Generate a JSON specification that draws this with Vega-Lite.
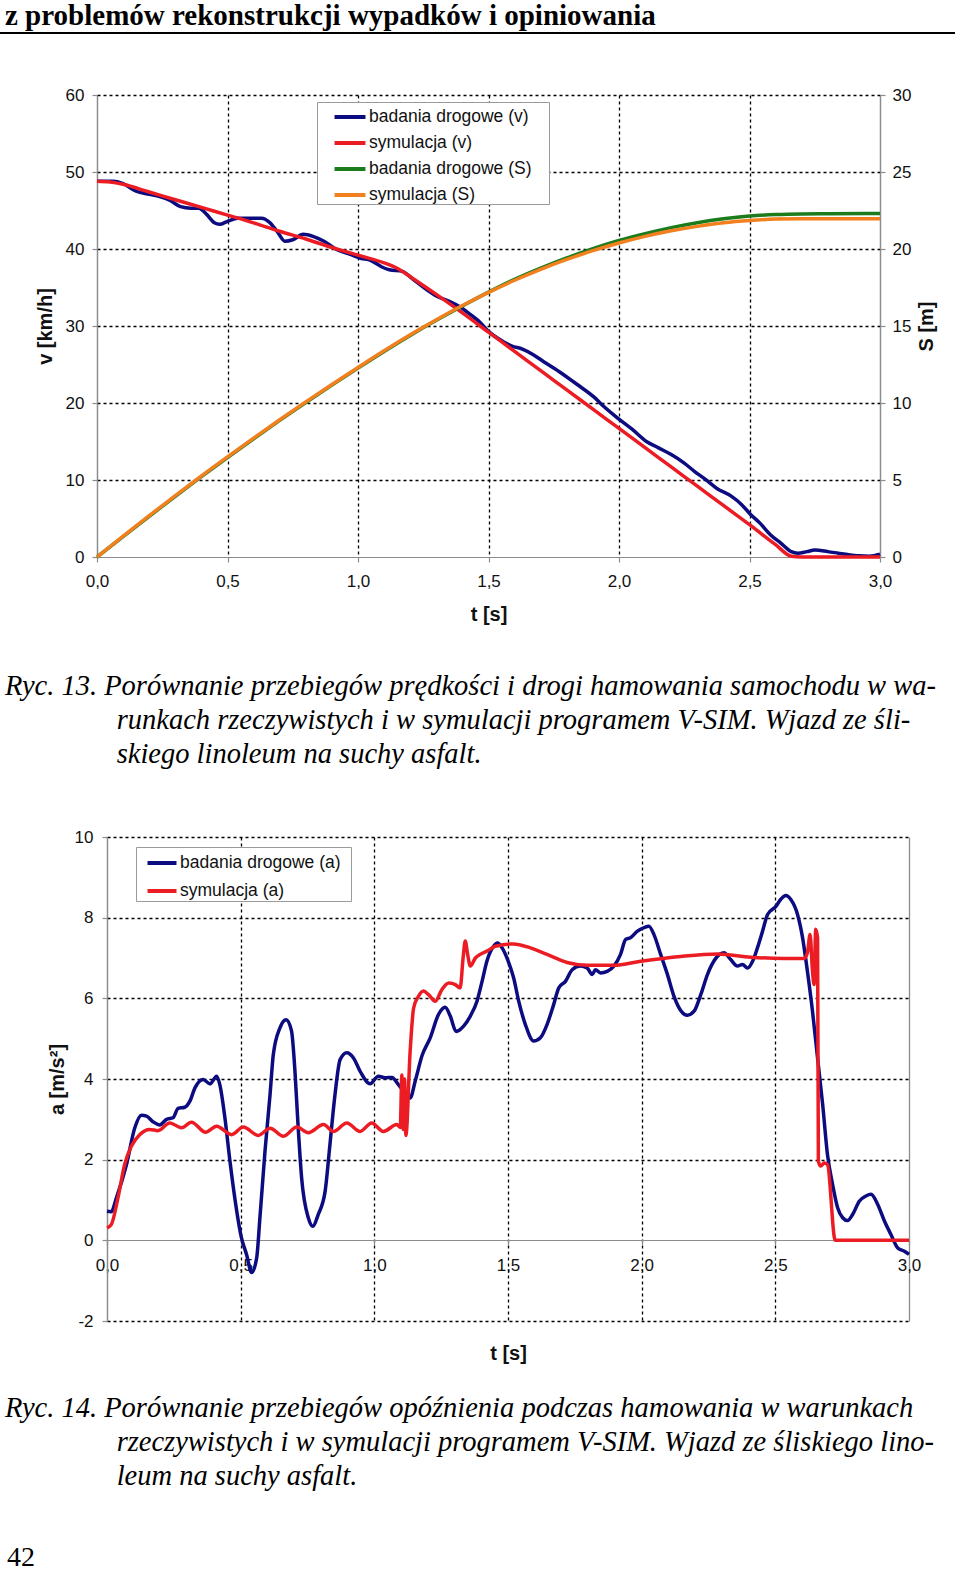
{
"$schema": "https://vega.github.io/schema/vega-lite/v6.json",
"background": "white",
"padding": {"left": 0, "top": 2, "right": 0, "bottom": 0},
"spacing": 0,
"resolve": {"scale": {"color": "independent"}},
"config": {
  "locale": {"number": {"decimal": ",", "thousands": ".", "grouping": [3], "currency": ["", " zł"], "minus": "-"}},
  "view": {"stroke": null},
  "axis": {
    "domainColor": "#8c8c8c", "domainWidth": 1.2,
    "tickColor": "#8c8c8c", "tickSize": 5, "tickWidth": 1.2,
    "labelFont": "Liberation Sans", "labelFontSize": 17, "labelColor": "#111111",
    "titleFont": "Liberation Sans", "titleFontSize": 20, "titleFontWeight": "bold", "titleColor": "#111111",
    "gridWidth": 1.3, "labelFlush": false, "labelOverlap": false, "labelBound": false
  },
  "title": {"color": "black", "anchor": "start", "frame": "group"}
},
"datasets": {
  "v1": [
    {"t":0,"v":48.8,"series":"badania drogowe (v)"},{"t":0.06,"v":48.8,"series":"badania drogowe (v)"},{"t":0.1,"v":48.5,"series":"badania drogowe (v)"},{"t":0.15,"v":47.5,"series":"badania drogowe (v)"},{"t":0.2,"v":47.1,"series":"badania drogowe (v)"},{"t":0.24,"v":46.8,"series":"badania drogowe (v)"},{"t":0.28,"v":46.3,"series":"badania drogowe (v)"},{"t":0.32,"v":45.5,"series":"badania drogowe (v)"},{"t":0.36,"v":45.3,"series":"badania drogowe (v)"},{"t":0.39,"v":45.3,"series":"badania drogowe (v)"},{"t":0.42,"v":44.5,"series":"badania drogowe (v)"},{"t":0.45,"v":43.4,"series":"badania drogowe (v)"},{"t":0.47,"v":43.2,"series":"badania drogowe (v)"},{"t":0.5,"v":43.6,"series":"badania drogowe (v)"},{"t":0.54,"v":44.0,"series":"badania drogowe (v)"},{"t":0.63,"v":44.0,"series":"badania drogowe (v)"},{"t":0.66,"v":43.5,"series":"badania drogowe (v)"},{"t":0.69,"v":42.3,"series":"badania drogowe (v)"},{"t":0.72,"v":41.0,"series":"badania drogowe (v)"},{"t":0.75,"v":41.2,"series":"badania drogowe (v)"},{"t":0.79,"v":41.9,"series":"badania drogowe (v)"},{"t":0.83,"v":41.6,"series":"badania drogowe (v)"},{"t":0.87,"v":41.0,"series":"badania drogowe (v)"},{"t":0.92,"v":39.9,"series":"badania drogowe (v)"},{"t":0.97,"v":39.3,"series":"badania drogowe (v)"},{"t":1.01,"v":38.8,"series":"badania drogowe (v)"},{"t":1.05,"v":38.5,"series":"badania drogowe (v)"},{"t":1.09,"v":37.7,"series":"badania drogowe (v)"},{"t":1.12,"v":37.3,"series":"badania drogowe (v)"},{"t":1.17,"v":37.1,"series":"badania drogowe (v)"},{"t":1.21,"v":36.1,"series":"badania drogowe (v)"},{"t":1.26,"v":34.8,"series":"badania drogowe (v)"},{"t":1.3,"v":33.9,"series":"badania drogowe (v)"},{"t":1.35,"v":33.2,"series":"badania drogowe (v)"},{"t":1.39,"v":32.5,"series":"badania drogowe (v)"},{"t":1.43,"v":31.5,"series":"badania drogowe (v)"},{"t":1.47,"v":30.4,"series":"badania drogowe (v)"},{"t":1.5,"v":29.3,"series":"badania drogowe (v)"},{"t":1.555,"v":28.0,"series":"badania drogowe (v)"},{"t":1.59,"v":27.4,"series":"badania drogowe (v)"},{"t":1.63,"v":27.0,"series":"badania drogowe (v)"},{"t":1.67,"v":26.3,"series":"badania drogowe (v)"},{"t":1.71,"v":25.4,"series":"badania drogowe (v)"},{"t":1.77,"v":24.1,"series":"badania drogowe (v)"},{"t":1.84,"v":22.4,"series":"badania drogowe (v)"},{"t":1.91,"v":20.6,"series":"badania drogowe (v)"},{"t":1.94,"v":19.6,"series":"badania drogowe (v)"},{"t":2.0,"v":17.9,"series":"badania drogowe (v)"},{"t":2.05,"v":16.6,"series":"badania drogowe (v)"},{"t":2.105,"v":15.0,"series":"badania drogowe (v)"},{"t":2.15,"v":14.2,"series":"badania drogowe (v)"},{"t":2.2,"v":13.3,"series":"badania drogowe (v)"},{"t":2.25,"v":12.2,"series":"badania drogowe (v)"},{"t":2.29,"v":11.1,"series":"badania drogowe (v)"},{"t":2.33,"v":10.1,"series":"badania drogowe (v)"},{"t":2.375,"v":8.9,"series":"badania drogowe (v)"},{"t":2.43,"v":7.9,"series":"badania drogowe (v)"},{"t":2.47,"v":6.8,"series":"badania drogowe (v)"},{"t":2.505,"v":5.5,"series":"badania drogowe (v)"},{"t":2.54,"v":4.4,"series":"badania drogowe (v)"},{"t":2.58,"v":2.9,"series":"badania drogowe (v)"},{"t":2.62,"v":1.8,"series":"badania drogowe (v)"},{"t":2.66,"v":0.7,"series":"badania drogowe (v)"},{"t":2.685,"v":0.5,"series":"badania drogowe (v)"},{"t":2.72,"v":0.7,"series":"badania drogowe (v)"},{"t":2.75,"v":0.9,"series":"badania drogowe (v)"},{"t":2.8,"v":0.7,"series":"badania drogowe (v)"},{"t":2.84,"v":0.5,"series":"badania drogowe (v)"},{"t":2.88,"v":0.3,"series":"badania drogowe (v)"},{"t":2.92,"v":0.15,"series":"badania drogowe (v)"},{"t":2.96,"v":0.1,"series":"badania drogowe (v)"},{"t":3.0,"v":0.35,"series":"badania drogowe (v)"},
    {"t":0,"v":48.8,"series":"symulacja (v)"},{"t":0.05,"v":48.7,"series":"symulacja (v)"},{"t":0.1,"v":48.4,"series":"symulacja (v)"},{"t":0.2,"v":47.4,"series":"symulacja (v)"},{"t":0.3,"v":46.4,"series":"symulacja (v)"},{"t":0.4,"v":45.4,"series":"symulacja (v)"},{"t":0.5,"v":44.4,"series":"symulacja (v)"},{"t":0.6,"v":43.4,"series":"symulacja (v)"},{"t":0.7,"v":42.3,"series":"symulacja (v)"},{"t":0.8,"v":41.3,"series":"symulacja (v)"},{"t":0.9,"v":40.2,"series":"symulacja (v)"},{"t":1.0,"v":39.2,"series":"symulacja (v)"},{"t":1.1,"v":38.2,"series":"symulacja (v)"},{"t":1.15,"v":37.5,"series":"symulacja (v)"},{"t":1.2,"v":36.4,"series":"symulacja (v)"},{"t":1.3,"v":34.1,"series":"symulacja (v)"},{"t":1.4,"v":31.7,"series":"symulacja (v)"},{"t":1.5,"v":29.2,"series":"symulacja (v)"},{"t":1.6,"v":26.7,"series":"symulacja (v)"},{"t":1.7,"v":24.2,"series":"symulacja (v)"},{"t":1.8,"v":21.7,"series":"symulacja (v)"},{"t":1.9,"v":19.2,"series":"symulacja (v)"},{"t":2.0,"v":16.7,"series":"symulacja (v)"},{"t":2.1,"v":14.2,"series":"symulacja (v)"},{"t":2.2,"v":11.7,"series":"symulacja (v)"},{"t":2.3,"v":9.2,"series":"symulacja (v)"},{"t":2.4,"v":6.7,"series":"symulacja (v)"},{"t":2.5,"v":4.2,"series":"symulacja (v)"},{"t":2.6,"v":1.6,"series":"symulacja (v)"},{"t":2.66,"v":0.1,"series":"symulacja (v)"},{"t":2.7,"v":0,"series":"symulacja (v)"},{"t":3.0,"v":0,"series":"symulacja (v)"}
  ],
  "s1": [
    {"t":0,"s":0,"series":"badania drogowe (S)"},{"t":0.1,"s":1.32,"series":"badania drogowe (S)"},{"t":0.2,"s":2.64,"series":"badania drogowe (S)"},{"t":0.3,"s":3.94,"series":"badania drogowe (S)"},{"t":0.4,"s":5.22,"series":"badania drogowe (S)"},{"t":0.5,"s":6.46,"series":"badania drogowe (S)"},{"t":0.6,"s":7.68,"series":"badania drogowe (S)"},{"t":0.7,"s":8.87,"series":"badania drogowe (S)"},{"t":0.8,"s":10.03,"series":"badania drogowe (S)"},{"t":0.9,"s":11.16,"series":"badania drogowe (S)"},{"t":1.0,"s":12.27,"series":"badania drogowe (S)"},{"t":1.1,"s":13.35,"series":"badania drogowe (S)"},{"t":1.2,"s":14.39,"series":"badania drogowe (S)"},{"t":1.3,"s":15.37,"series":"badania drogowe (S)"},{"t":1.4,"s":16.3,"series":"badania drogowe (S)"},{"t":1.5,"s":17.2,"series":"badania drogowe (S)"},{"t":1.6,"s":18.03,"series":"badania drogowe (S)"},{"t":1.7,"s":18.76,"series":"badania drogowe (S)"},{"t":1.8,"s":19.42,"series":"badania drogowe (S)"},{"t":1.9,"s":20.02,"series":"badania drogowe (S)"},{"t":2.0,"s":20.55,"series":"badania drogowe (S)"},{"t":2.1,"s":21.0,"series":"badania drogowe (S)"},{"t":2.2,"s":21.39,"series":"badania drogowe (S)"},{"t":2.3,"s":21.71,"series":"badania drogowe (S)"},{"t":2.4,"s":21.96,"series":"badania drogowe (S)"},{"t":2.5,"s":22.14,"series":"badania drogowe (S)"},{"t":2.6,"s":22.24,"series":"badania drogowe (S)"},{"t":2.7,"s":22.28,"series":"badania drogowe (S)"},{"t":2.8,"s":22.29,"series":"badania drogowe (S)"},{"t":3.0,"s":22.3,"series":"badania drogowe (S)"},
    {"t":0,"s":0,"series":"symulacja (S)"},{"t":0.1,"s":1.35,"series":"symulacja (S)"},{"t":0.2,"s":2.68,"series":"symulacja (S)"},{"t":0.3,"s":3.98,"series":"symulacja (S)"},{"t":0.4,"s":5.26,"series":"symulacja (S)"},{"t":0.5,"s":6.5,"series":"symulacja (S)"},{"t":0.6,"s":7.72,"series":"symulacja (S)"},{"t":0.7,"s":8.91,"series":"symulacja (S)"},{"t":0.8,"s":10.07,"series":"symulacja (S)"},{"t":0.9,"s":11.2,"series":"symulacja (S)"},{"t":1.0,"s":12.31,"series":"symulacja (S)"},{"t":1.1,"s":13.39,"series":"symulacja (S)"},{"t":1.2,"s":14.43,"series":"symulacja (S)"},{"t":1.3,"s":15.41,"series":"symulacja (S)"},{"t":1.4,"s":16.33,"series":"symulacja (S)"},{"t":1.5,"s":17.18,"series":"symulacja (S)"},{"t":1.6,"s":17.97,"series":"symulacja (S)"},{"t":1.7,"s":18.68,"series":"symulacja (S)"},{"t":1.8,"s":19.32,"series":"symulacja (S)"},{"t":1.9,"s":19.89,"series":"symulacja (S)"},{"t":2.0,"s":20.39,"series":"symulacja (S)"},{"t":2.1,"s":20.82,"series":"symulacja (S)"},{"t":2.2,"s":21.18,"series":"symulacja (S)"},{"t":2.3,"s":21.47,"series":"symulacja (S)"},{"t":2.4,"s":21.7,"series":"symulacja (S)"},{"t":2.5,"s":21.85,"series":"symulacja (S)"},{"t":2.6,"s":21.94,"series":"symulacja (S)"},{"t":2.7,"s":21.96,"series":"symulacja (S)"},{"t":3.0,"s":21.96,"series":"symulacja (S)"}
  ],
  "a2": [
    {"t":0,"a":0.72,"series":"badania drogowe (a)"},{"t":0.016,"a":0.71,"series":"badania drogowe (a)"},{"t":0.035,"a":1.05,"series":"badania drogowe (a)"},{"t":0.073,"a":1.88,"series":"badania drogowe (a)"},{"t":0.104,"a":2.79,"series":"badania drogowe (a)"},{"t":0.129,"a":3.1,"series":"badania drogowe (a)"},{"t":0.148,"a":3.08,"series":"badania drogowe (a)"},{"t":0.172,"a":2.94,"series":"badania drogowe (a)"},{"t":0.197,"a":2.86,"series":"badania drogowe (a)"},{"t":0.223,"a":3.0,"series":"badania drogowe (a)"},{"t":0.247,"a":3.04,"series":"badania drogowe (a)"},{"t":0.266,"a":3.27,"series":"badania drogowe (a)"},{"t":0.291,"a":3.3,"series":"badania drogowe (a)"},{"t":0.31,"a":3.45,"series":"badania drogowe (a)"},{"t":0.329,"a":3.78,"series":"badania drogowe (a)"},{"t":0.36,"a":3.99,"series":"badania drogowe (a)"},{"t":0.385,"a":3.88,"series":"badania drogowe (a)"},{"t":0.41,"a":4.07,"series":"badania drogowe (a)"},{"t":0.422,"a":3.86,"series":"badania drogowe (a)"},{"t":0.441,"a":3.04,"series":"badania drogowe (a)"},{"t":0.46,"a":1.96,"series":"badania drogowe (a)"},{"t":0.478,"a":1.05,"series":"badania drogowe (a)"},{"t":0.503,"a":0.06,"series":"badania drogowe (a)"},{"t":0.522,"a":-0.35,"series":"badania drogowe (a)"},{"t":0.541,"a":-0.8,"series":"badania drogowe (a)"},{"t":0.56,"a":-0.43,"series":"badania drogowe (a)"},{"t":0.572,"a":0.56,"series":"badania drogowe (a)"},{"t":0.591,"a":2.21,"series":"badania drogowe (a)"},{"t":0.61,"a":3.62,"series":"badania drogowe (a)"},{"t":0.622,"a":4.6,"series":"badania drogowe (a)"},{"t":0.647,"a":5.27,"series":"badania drogowe (a)"},{"t":0.67,"a":5.47,"series":"badania drogowe (a)"},{"t":0.69,"a":5.2,"series":"badania drogowe (a)"},{"t":0.703,"a":4.2,"series":"badania drogowe (a)"},{"t":0.713,"a":3.04,"series":"badania drogowe (a)"},{"t":0.728,"a":1.55,"series":"badania drogowe (a)"},{"t":0.753,"a":0.56,"series":"badania drogowe (a)"},{"t":0.77,"a":0.35,"series":"badania drogowe (a)"},{"t":0.79,"a":0.64,"series":"badania drogowe (a)"},{"t":0.816,"a":1.22,"series":"badania drogowe (a)"},{"t":0.834,"a":2.38,"series":"badania drogowe (a)"},{"t":0.853,"a":3.62,"series":"badania drogowe (a)"},{"t":0.872,"a":4.48,"series":"badania drogowe (a)"},{"t":0.897,"a":4.65,"series":"badania drogowe (a)"},{"t":0.922,"a":4.52,"series":"badania drogowe (a)"},{"t":0.947,"a":4.19,"series":"badania drogowe (a)"},{"t":0.984,"a":3.88,"series":"badania drogowe (a)"},{"t":1.015,"a":4.07,"series":"badania drogowe (a)"},{"t":1.04,"a":4.03,"series":"badania drogowe (a)"},{"t":1.066,"a":4.04,"series":"badania drogowe (a)"},{"t":1.09,"a":3.86,"series":"badania drogowe (a)"},{"t":1.11,"a":3.7,"series":"badania drogowe (a)"},{"t":1.134,"a":3.53,"series":"badania drogowe (a)"},{"t":1.153,"a":3.95,"series":"badania drogowe (a)"},{"t":1.178,"a":4.57,"series":"badania drogowe (a)"},{"t":1.209,"a":5.02,"series":"badania drogowe (a)"},{"t":1.24,"a":5.6,"series":"badania drogowe (a)"},{"t":1.265,"a":5.78,"series":"badania drogowe (a)"},{"t":1.284,"a":5.56,"series":"badania drogowe (a)"},{"t":1.306,"a":5.18,"series":"badania drogowe (a)"},{"t":1.334,"a":5.31,"series":"badania drogowe (a)"},{"t":1.359,"a":5.56,"series":"badania drogowe (a)"},{"t":1.384,"a":5.93,"series":"badania drogowe (a)"},{"t":1.403,"a":6.42,"series":"badania drogowe (a)"},{"t":1.421,"a":6.92,"series":"badania drogowe (a)"},{"t":1.446,"a":7.29,"series":"badania drogowe (a)"},{"t":1.461,"a":7.37,"series":"badania drogowe (a)"},{"t":1.478,"a":7.25,"series":"badania drogowe (a)"},{"t":1.503,"a":6.88,"series":"badania drogowe (a)"},{"t":1.521,"a":6.51,"series":"badania drogowe (a)"},{"t":1.54,"a":5.93,"series":"badania drogowe (a)"},{"t":1.565,"a":5.35,"series":"badania drogowe (a)"},{"t":1.596,"a":4.94,"series":"badania drogowe (a)"},{"t":1.621,"a":5.02,"series":"badania drogowe (a)"},{"t":1.646,"a":5.35,"series":"badania drogowe (a)"},{"t":1.671,"a":5.85,"series":"badania drogowe (a)"},{"t":1.69,"a":6.26,"series":"badania drogowe (a)"},{"t":1.715,"a":6.42,"series":"badania drogowe (a)"},{"t":1.74,"a":6.71,"series":"badania drogowe (a)"},{"t":1.771,"a":6.8,"series":"badania drogowe (a)"},{"t":1.796,"a":6.75,"series":"badania drogowe (a)"},{"t":1.815,"a":6.59,"series":"badania drogowe (a)"},{"t":1.827,"a":6.71,"series":"badania drogowe (a)"},{"t":1.846,"a":6.63,"series":"badania drogowe (a)"},{"t":1.871,"a":6.67,"series":"badania drogowe (a)"},{"t":1.896,"a":6.8,"series":"badania drogowe (a)"},{"t":1.921,"a":7.09,"series":"badania drogowe (a)"},{"t":1.94,"a":7.46,"series":"badania drogowe (a)"},{"t":1.958,"a":7.5,"series":"badania drogowe (a)"},{"t":1.983,"a":7.66,"series":"badania drogowe (a)"},{"t":2.008,"a":7.75,"series":"badania drogowe (a)"},{"t":2.027,"a":7.79,"series":"badania drogowe (a)"},{"t":2.046,"a":7.58,"series":"badania drogowe (a)"},{"t":2.071,"a":7.09,"series":"badania drogowe (a)"},{"t":2.096,"a":6.6,"series":"badania drogowe (a)"},{"t":2.121,"a":6.05,"series":"badania drogowe (a)"},{"t":2.146,"a":5.7,"series":"badania drogowe (a)"},{"t":2.171,"a":5.58,"series":"badania drogowe (a)"},{"t":2.196,"a":5.68,"series":"badania drogowe (a)"},{"t":2.221,"a":6.09,"series":"badania drogowe (a)"},{"t":2.246,"a":6.59,"series":"badania drogowe (a)"},{"t":2.277,"a":6.99,"series":"badania drogowe (a)"},{"t":2.308,"a":7.13,"series":"badania drogowe (a)"},{"t":2.333,"a":6.96,"series":"badania drogowe (a)"},{"t":2.358,"a":6.8,"series":"badania drogowe (a)"},{"t":2.377,"a":6.84,"series":"badania drogowe (a)"},{"t":2.396,"a":6.75,"series":"badania drogowe (a)"},{"t":2.415,"a":6.92,"series":"badania drogowe (a)"},{"t":2.433,"a":7.25,"series":"badania drogowe (a)"},{"t":2.452,"a":7.66,"series":"badania drogowe (a)"},{"t":2.471,"a":8.08,"series":"badania drogowe (a)"},{"t":2.502,"a":8.28,"series":"badania drogowe (a)"},{"t":2.52,"a":8.45,"series":"badania drogowe (a)"},{"t":2.539,"a":8.55,"series":"badania drogowe (a)"},{"t":2.558,"a":8.45,"series":"badania drogowe (a)"},{"t":2.583,"a":8.08,"series":"badania drogowe (a)"},{"t":2.602,"a":7.5,"series":"badania drogowe (a)"},{"t":2.62,"a":6.67,"series":"badania drogowe (a)"},{"t":2.639,"a":5.68,"series":"badania drogowe (a)"},{"t":2.658,"a":4.52,"series":"badania drogowe (a)"},{"t":2.677,"a":3.37,"series":"badania drogowe (a)"},{"t":2.695,"a":2.13,"series":"badania drogowe (a)"},{"t":2.714,"a":1.39,"series":"badania drogowe (a)"},{"t":2.733,"a":0.81,"series":"badania drogowe (a)"},{"t":2.752,"a":0.56,"series":"badania drogowe (a)"},{"t":2.77,"a":0.49,"series":"badania drogowe (a)"},{"t":2.789,"a":0.64,"series":"badania drogowe (a)"},{"t":2.814,"a":0.97,"series":"badania drogowe (a)"},{"t":2.839,"a":1.1,"series":"badania drogowe (a)"},{"t":2.858,"a":1.14,"series":"badania drogowe (a)"},{"t":2.883,"a":0.89,"series":"badania drogowe (a)"},{"t":2.908,"a":0.48,"series":"badania drogowe (a)"},{"t":2.932,"a":0.15,"series":"badania drogowe (a)"},{"t":2.958,"a":-0.19,"series":"badania drogowe (a)"},{"t":2.983,"a":-0.27,"series":"badania drogowe (a)"},{"t":3.0,"a":-0.35,"series":"badania drogowe (a)"},
    {"t":0,"a":0.31,"series":"symulacja (a)"},{"t":0.016,"a":0.39,"series":"symulacja (a)"},{"t":0.041,"a":1.05,"series":"symulacja (a)"},{"t":0.066,"a":1.88,"series":"symulacja (a)"},{"t":0.091,"a":2.33,"series":"symulacja (a)"},{"t":0.122,"a":2.62,"series":"symulacja (a)"},{"t":0.16,"a":2.75,"series":"symulacja (a)"},{"t":0.191,"a":2.72,"series":"symulacja (a)"},{"t":0.235,"a":2.91,"series":"symulacja (a)"},{"t":0.279,"a":2.79,"series":"symulacja (a)"},{"t":0.316,"a":2.93,"series":"symulacja (a)"},{"t":0.369,"a":2.68,"series":"symulacja (a)"},{"t":0.41,"a":2.83,"series":"symulacja (a)"},{"t":0.466,"a":2.62,"series":"symulacja (a)"},{"t":0.51,"a":2.81,"series":"symulacja (a)"},{"t":0.566,"a":2.6,"series":"symulacja (a)"},{"t":0.61,"a":2.78,"series":"symulacja (a)"},{"t":0.66,"a":2.58,"series":"symulacja (a)"},{"t":0.71,"a":2.81,"series":"symulacja (a)"},{"t":0.753,"a":2.67,"series":"symulacja (a)"},{"t":0.81,"a":2.87,"series":"symulacja (a)"},{"t":0.847,"a":2.7,"series":"symulacja (a)"},{"t":0.897,"a":2.91,"series":"symulacja (a)"},{"t":0.947,"a":2.7,"series":"symulacja (a)"},{"t":0.99,"a":2.91,"series":"symulacja (a)"},{"t":1.034,"a":2.7,"series":"symulacja (a)"},{"t":1.084,"a":2.87,"series":"symulacja (a)"},{"t":1.097,"a":2.8,"series":"symulacja (a)"},{"t":1.103,"a":4.1,"series":"symulacja (a)"},{"t":1.108,"a":2.75,"series":"symulacja (a)"},{"t":1.113,"a":4.0,"series":"symulacja (a)"},{"t":1.118,"a":2.6,"series":"symulacja (a)"},{"t":1.134,"a":4.69,"series":"symulacja (a)"},{"t":1.147,"a":5.76,"series":"symulacja (a)"},{"t":1.165,"a":6.05,"series":"symulacja (a)"},{"t":1.184,"a":6.18,"series":"symulacja (a)"},{"t":1.203,"a":6.09,"series":"symulacja (a)"},{"t":1.228,"a":5.93,"series":"symulacja (a)"},{"t":1.253,"a":6.22,"series":"symulacja (a)"},{"t":1.278,"a":6.38,"series":"symulacja (a)"},{"t":1.303,"a":6.34,"series":"symulacja (a)"},{"t":1.321,"a":6.26,"series":"symulacja (a)"},{"t":1.332,"a":7.0,"series":"symulacja (a)"},{"t":1.34,"a":7.42,"series":"symulacja (a)"},{"t":1.349,"a":7.09,"series":"symulacja (a)"},{"t":1.359,"a":6.8,"series":"symulacja (a)"},{"t":1.378,"a":7.0,"series":"symulacja (a)"},{"t":1.396,"a":7.09,"series":"symulacja (a)"},{"t":1.421,"a":7.17,"series":"symulacja (a)"},{"t":1.453,"a":7.29,"series":"symulacja (a)"},{"t":1.521,"a":7.35,"series":"symulacja (a)"},{"t":1.584,"a":7.25,"series":"symulacja (a)"},{"t":1.646,"a":7.09,"series":"symulacja (a)"},{"t":1.721,"a":6.89,"series":"symulacja (a)"},{"t":1.796,"a":6.82,"series":"symulacja (a)"},{"t":1.896,"a":6.82,"series":"symulacja (a)"},{"t":1.996,"a":6.92,"series":"symulacja (a)"},{"t":2.146,"a":7.04,"series":"symulacja (a)"},{"t":2.283,"a":7.1,"series":"symulacja (a)"},{"t":2.408,"a":7.02,"series":"symulacja (a)"},{"t":2.533,"a":6.99,"series":"symulacja (a)"},{"t":2.608,"a":6.99,"series":"symulacja (a)"},{"t":2.62,"a":7.13,"series":"symulacja (a)"},{"t":2.63,"a":7.58,"series":"symulacja (a)"},{"t":2.639,"a":6.67,"series":"symulacja (a)"},{"t":2.645,"a":6.34,"series":"symulacja (a)"},{"t":2.651,"a":7.71,"series":"symulacja (a)"},{"t":2.658,"a":7.5,"series":"symulacja (a)"},{"t":2.661,"a":1.96,"series":"symulacja (a)"},{"t":2.67,"a":1.84,"series":"symulacja (a)"},{"t":2.683,"a":1.92,"series":"symulacja (a)"},{"t":2.695,"a":1.88,"series":"symulacja (a)"},{"t":2.724,"a":0,"series":"symulacja (a)"},{"t":3.0,"a":0,"series":"symulacja (a)"}
  ]
},
"vconcat": [
  {
    "width": 955, "height": 2,
    "view": {"fill": "black", "stroke": null},
    "title": {"text": "z problemów rekonstrukcji wypadków i opiniowania", "orient": "top", "anchor": "start", "frame": "group", "font": "Liberation Serif", "fontSize": 29, "fontWeight": "bold", "offset": -4, "dx": 5},
    "data": {"values": [{}]},
    "mark": {"type": "text"},
    "encoding": {}
  },
  {"width": 1, "height": 48, "data": {"values": [{}]}, "mark": {"type": "text"}, "encoding": {}},
  {
    "spacing": 0,
    "resolve": {"scale": {"color": "independent"}},
    "hconcat": [
      {"width": 35, "height": 1, "data": {"values": [{}]}, "mark": {"type": "text"}, "encoding": {}},
      {
        "width": 783, "height": 462,
        "layer": [
          {
            "data": {"name": "v1"},
            "mark": {"type": "line", "strokeWidth": 3.5, "interpolate": "monotone"},
            "encoding": {
              "x": {"field": "t", "type": "quantitative", "scale": {"domain": [0, 3], "nice": false},
                "axis": {"title": "t [s]", "values": [0, 0.5, 1, 1.5, 2, 2.5, 3], "format": ".1f", "grid": true,
                  "gridColor": {"condition": {"test": "datum.value === 0 || datum.value === 3", "value": "#8c8c8c"}, "value": "black"},
                  "gridDash": {"condition": {"test": "datum.value === 0 || datum.value === 3", "value": []}, "value": [3, 3]},
                  "labelPadding": 11, "titlePadding": 15}},
              "y": {"field": "v", "type": "quantitative", "scale": {"domain": [0, 60], "nice": false},
                "axis": {"title": "v [km/h]", "values": [0, 10, 20, 30, 40, 50, 60], "grid": true,
                  "gridColor": {"condition": {"test": "datum.value === 0", "value": "transparent"}, "value": "black"},
                  "gridDash": [3, 3], "labelPadding": 8, "titlePadding": 10}},
              "color": {"field": "series", "type": "nominal",
                "scale": {"domain": ["badania drogowe (v)", "symulacja (v)", "badania drogowe (S)", "symulacja (S)"], "range": ["#0c0c80", "#ec1c24", "#1c7c1c", "#f2801e"]},
                "legend": {"orient": "none", "legendX": 220, "legendY": 7, "title": null, "symbolType": "M-1.19,0H1.19", "symbolSize": 676, "symbolStrokeWidth": 4,
                  "labelFont": "Liberation Sans", "labelFontSize": 17.5, "labelColor": "#111111", "labelLimit": 400, "labelOffset": 4,
                  "strokeColor": "#9a9a9a", "fillColor": "white", "padding": 0, "symbolOffset": 18, "rowPadding": 2,
                  "labelExpr": "datum.label + '\u2003\u200b'"}}
            }
          },
          {
            "data": {"name": "s1"},
            "mark": {"type": "line", "strokeWidth": 3.5, "interpolate": "monotone"},
            "encoding": {
              "x": {"field": "t", "type": "quantitative"},
              "y": {"field": "s", "type": "quantitative", "scale": {"domain": [0, 30], "nice": false},
                "axis": {"orient": "right", "title": "S [m]", "values": [0, 5, 10, 15, 20, 25, 30], "grid": false,
                  "titleAngle": 270, "titleBaseline": "top", "labelPadding": 7, "titlePadding": 6}},
              "color": {"field": "series", "type": "nominal"}
            }
          }
        ],
        "resolve": {"scale": {"y": "independent"}}
      }
    ]
  },
  {"width": 1, "height": 47, "data": {"values": [{}]}, "mark": {"type": "text"}, "encoding": {}},
  {
    "width": 950, "height": 60,
    "title": {"text": ["Ryc. 13. Porównanie przebiegów prędkości i drogi hamowania samochodu w wa-", "\u200b\u2003\u2003\u2003\u2002\u2004\u200arunkach rzeczywistych i w symulacji programem V-SIM. Wjazd ze śli-", "\u200b\u2003\u2003\u2003\u2002\u2004\u200askiego linoleum na suchy asfalt."], "orient": "top", "anchor": "start", "frame": "group", "font": "Liberation Serif", "fontSize": 28.5, "fontStyle": "italic", "fontWeight": "normal", "lineHeight": 34, "offset": 0, "dx": 5},
    "data": {"values": [{}]},
    "mark": {"type": "text"},
    "encoding": {}
  },
  {
    "spacing": 0,
    "resolve": {"scale": {"color": "independent"}},
    "hconcat": [
      {"width": 47, "height": 1, "data": {"values": [{}]}, "mark": {"type": "text"}, "encoding": {}},
      {
        "width": 802, "height": 484,
        "data": {"name": "a2"},
        "mark": {"type": "line", "strokeWidth": 3.5, "interpolate": "monotone"},
        "encoding": {
          "x": {"field": "t", "type": "quantitative", "scale": {"domain": [0, 3], "nice": false},
            "axis": {"title": "t [s]", "values": [0, 0.5, 1, 1.5, 2, 2.5, 3], "format": ".1f", "grid": true, "offset": -81,
              "gridColor": {"condition": {"test": "datum.value === 0 || datum.value === 3", "value": "#8c8c8c"}, "value": "black"},
              "gridDash": {"condition": {"test": "datum.value === 0 || datum.value === 3", "value": []}, "value": [3, 3]},
              "labelPadding": 12, "titlePadding": 70}},
          "y": {"field": "a", "type": "quantitative", "scale": {"domain": [-2, 10], "nice": false},
            "axis": {"title": "a [m/s²]", "values": [-2, 0, 2, 4, 6, 8, 10], "grid": true,
              "gridColor": {"condition": {"test": "datum.value === 0", "value": "transparent"}, "value": "black"},
              "gridDash": [3, 3], "labelPadding": 9, "titlePadding": 7}},
          "color": {"field": "series", "type": "nominal",
            "scale": {"domain": ["badania drogowe (a)", "symulacja (a)"], "range": ["#0c0c80", "#ec1c24"]},
            "legend": {"orient": "none", "legendX": 29, "legendY": 10, "title": null, "symbolType": "M-1.115,0H1.115", "symbolSize": 676, "symbolStrokeWidth": 4,
              "labelFont": "Liberation Sans", "labelFontSize": 17.5, "labelColor": "#111111", "labelLimit": 400, "labelOffset": 3,
              "strokeColor": "#9a9a9a", "fillColor": "white", "padding": 1, "symbolOffset": 10, "rowPadding": 4,
              "labelExpr": "datum.label + '\u2002\u200b'"}}
        }
      }
    ]
  },
  {"width": 1, "height": 30, "data": {"values": [{}]}, "mark": {"type": "text"}, "encoding": {}},
  {
    "width": 950, "height": 53,
    "title": {"text": ["Ryc. 14. Porównanie przebiegów opóźnienia podczas hamowania w warunkach", "\u200b\u2003\u2003\u2003\u2002\u2004\u200arzeczywistych i w symulacji programem V-SIM. Wjazd ze śliskiego lino-", "\u200b\u2003\u2003\u2003\u2002\u2004\u200aleum na suchy asfalt."], "orient": "top", "anchor": "start", "frame": "group", "font": "Liberation Serif", "fontSize": 28.5, "fontStyle": "italic", "fontWeight": "normal", "lineHeight": 34, "offset": 0, "dx": 5},
    "data": {"values": [{}]},
    "mark": {"type": "text"},
    "encoding": {}
  },
  {
    "width": 100, "height": 1,
    "title": {"text": "42", "orient": "top", "anchor": "start", "frame": "group", "font": "Liberation Serif", "fontSize": 28, "fontWeight": "normal", "offset": 0, "dx": 7},
    "data": {"values": [{}]},
    "mark": {"type": "text"},
    "encoding": {}
  }
]
}
